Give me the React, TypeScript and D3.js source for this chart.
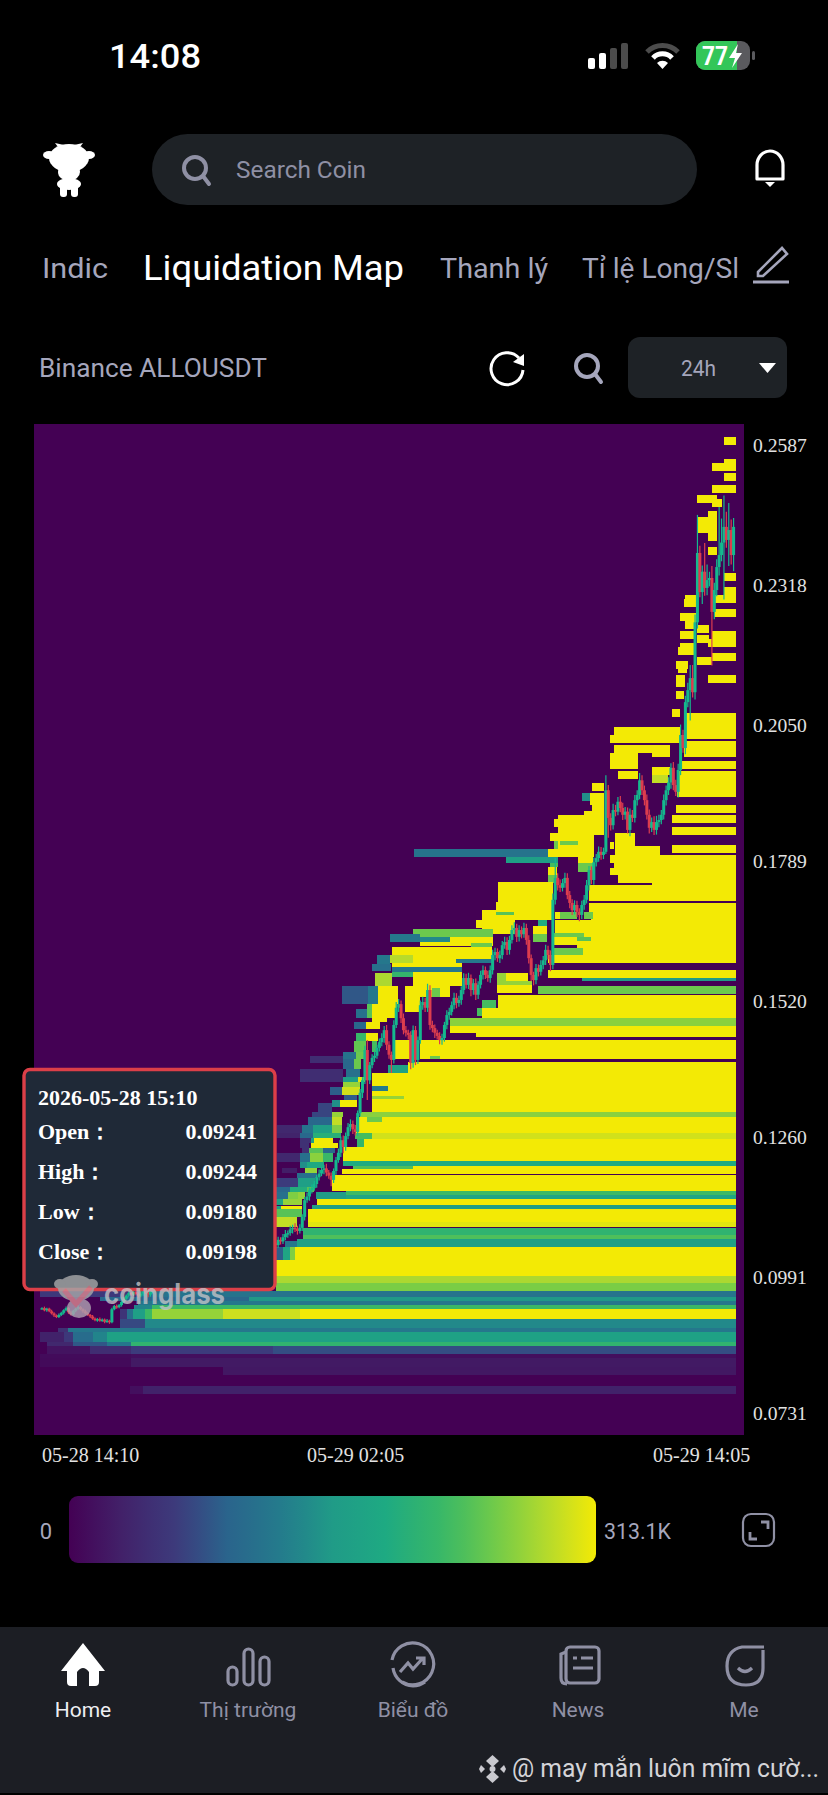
import * as d3 from "d3";
import { useEffect, useRef } from "react";

// price levels printed on the right of the map
const priceTicks = [0.2587, 0.2318, 0.205, 0.1789, 0.152, 0.126, 0.0991, 0.0731];
const timeLabels = ["05-28 14:10", "05-29 02:05", "05-29 14:05"];
const maxLiquidation = 313.1; // K

const tooltipRows = [
  ["Open：", "0.09241"],
  ["High：", "0.09244"],
  ["Low：", "0.09180"],
  ["Close：", "0.09198"],
];

const navItems = ["Home", "Thị trường", "Biểu đồ", "News", "Me"];

// 5 minute candles, open is the previous close
const candleClose = [
  0.0932, 0.0928, 0.0931, 0.0926, 0.0922, 0.0918, 0.0915, 0.0919, 0.0923, 0.0928,
  0.0932, 0.0924, 0.092, 0.0927, 0.0931, 0.0934, 0.093, 0.0926, 0.0922, 0.0919,
  0.0916, 0.0912, 0.0909, 0.0911, 0.0908, 0.091, 0.0906, 0.0908, 0.0905, 0.093,
  0.0936, 0.0934, 0.0938, 0.0944, 0.095, 0.0956, 0.0961, 0.0958, 0.0963, 0.0959,
  0.0956, 0.096, 0.0965, 0.0962, 0.0958, 0.0963, 0.0968, 0.0972, 0.0969, 0.0974,
  0.0978, 0.0975, 0.0971, 0.0976, 0.0981, 0.0985, 0.0982, 0.0987, 0.0991, 0.0988,
  0.0984, 0.0989, 0.0994, 0.0998, 0.0995, 0.1001, 0.1005, 0.1002, 0.0998, 0.1003,
  0.1008, 0.1012, 0.1009, 0.1014, 0.1018, 0.1015, 0.1011, 0.1016, 0.1021, 0.1025,
  0.1022, 0.1027, 0.1031, 0.1028, 0.1033, 0.1037, 0.1034, 0.1039, 0.1043, 0.104,
  0.1036, 0.1041, 0.1046, 0.105, 0.1047, 0.1052, 0.1056, 0.1053, 0.1063, 0.106,
  0.1068, 0.1074, 0.1076, 0.1083, 0.1086, 0.1084, 0.108, 0.1086, 0.1107, 0.1139,
  0.1146, 0.1158, 0.1162, 0.117, 0.1183, 0.119, 0.1197, 0.12, 0.1192, 0.1186,
  0.1178, 0.1195, 0.1216, 0.123, 0.1254, 0.1241, 0.1262, 0.1279, 0.1285, 0.1275,
  0.127, 0.1306, 0.1345, 0.1369, 0.1427, 0.1369, 0.1398, 0.1412, 0.1416, 0.1431,
  0.1442, 0.145, 0.1465, 0.1437, 0.1418, 0.1408, 0.1475, 0.1508, 0.1515, 0.1488,
  0.1465, 0.146, 0.1456, 0.1402, 0.1465, 0.1408, 0.1446, 0.1513, 0.1519, 0.1508,
  0.1542, 0.1475, 0.1469, 0.146, 0.1454, 0.1446, 0.145, 0.1475, 0.1494, 0.15,
  0.1513, 0.1527, 0.1517, 0.1523, 0.1542, 0.1565, 0.1552, 0.1565, 0.1542, 0.1555,
  0.1533, 0.1552, 0.1571, 0.158, 0.1571, 0.1565, 0.158, 0.1609, 0.1615, 0.1603,
  0.1609, 0.1628, 0.1634, 0.1619, 0.1638, 0.1657, 0.1661, 0.1644, 0.1657, 0.1649,
  0.1661, 0.1638, 0.1603, 0.1571, 0.1561, 0.1584, 0.1577, 0.159, 0.1599, 0.1619,
  0.1609, 0.159, 0.1715, 0.1757, 0.1743, 0.1738, 0.1747, 0.1757, 0.1724, 0.1709,
  0.1695, 0.1705, 0.1692, 0.1686, 0.1705, 0.1715, 0.1743, 0.1772, 0.1753, 0.1787,
  0.1795, 0.1807, 0.1801, 0.1807, 0.1925, 0.1872, 0.1858, 0.1887, 0.1884, 0.1903,
  0.1891, 0.1878, 0.1884, 0.1849, 0.1878, 0.1872, 0.1906, 0.1916, 0.1944, 0.1925,
  0.1906, 0.1878, 0.1853, 0.1864, 0.1849, 0.1864, 0.1868, 0.1878, 0.1906, 0.1925,
  0.194, 0.1968, 0.1935, 0.1922, 0.1964, 0.2031, 0.2006, 0.2094, 0.2117, 0.214,
  0.2113, 0.2247, 0.238, 0.2305, 0.2344, 0.2313, 0.2328, 0.2332, 0.2267, 0.2309,
  0.2353, 0.2376, 0.24, 0.243, 0.2405, 0.2424, 0.2376, 0.243,
];

// wick lengths, in 0.0001 of price
const wickUp = [
  2, 3, 2, 2, 3, 2, 2, 3, 2, 2, 3, 2, 3, 2, 2, 3, 2, 2, 3, 2,
  2, 3, 2, 2, 3, 2, 2, 3, 2, 3, 2, 3, 2, 2, 3, 2, 3, 2, 2, 3,
  3, 4, 3, 5, 4, 3, 4, 3, 5, 4, 3, 4, 3, 5, 4, 3, 4, 3, 5, 4,
  3, 4, 3, 5, 4, 3, 4, 3, 5, 4, 3, 4, 3, 5, 4, 3, 4, 3, 5, 4,
  3, 4, 3, 5, 4, 3, 4, 3, 5, 4, 3, 4, 3, 5, 4, 3, 4, 3, 6, 5,
  6, 8, 5, 7, 6, 9, 6, 7, 5, 6, 8, 5, 7, 6, 5, 8, 6, 7, 9, 5,
  6, 5, 6, 8, 7, 9, 7, 8, 9, 7, 8, 5, 7, 6, 8, 19, 6, 7, 8, 6,
  7, 9, 8, 10, 7, 6, 9, 11, 10, 7, 9, 8, 6, 7, 9, 8, 7, 9, 10, 8,
  12, 9, 8, 7, 6, 7, 8, 6, 9, 8, 7, 10, 9, 8, 7, 9, 8, 10, 7, 8,
  9, 7, 8, 9, 7, 8, 9, 10, 8, 7, 9, 8, 10, 9, 8, 9, 11, 8, 9, 7,
  10, 8, 9, 7, 6, 8, 7, 9, 8, 10, 8, 9, 12, 38, 9, 11, 8, 10, 9, 8,
  7, 9, 8, 7, 8, 9, 10, 8, 7, 9, 8, 10, 9, 8, 29, 10, 9, 12, 10, 9,
  11, 10, 9, 8, 12, 9, 10, 9, 14, 10, 9, 11, 10, 9, 11, 12, 10, 9, 11, 9,
  10, 9, 11, 10, 12, 20, 10, 12, 14, 25, 25, 15, 73, 14, 12, 55, 30, 12, 23, 14,
  15, 92, 46, 60, 29, 52, 20, 17,
];
const wickDown = [
  2, 2, 3, 2, 2, 3, 2, 2, 2, 3, 2, 3, 2, 2, 3, 2, 2, 3, 2, 2,
  3, 2, 2, 3, 2, 2, 3, 2, 3, 2, 2, 3, 2, 3, 2, 2, 3, 2, 3, 2,
  4, 3, 4, 3, 5, 4, 3, 4, 3, 5, 4, 3, 4, 3, 5, 4, 3, 4, 3, 5,
  4, 3, 4, 3, 5, 4, 3, 4, 3, 5, 4, 3, 4, 3, 5, 4, 3, 4, 3, 5,
  4, 3, 4, 3, 5, 4, 3, 4, 3, 5, 4, 3, 4, 3, 5, 4, 3, 4, 5, 6,
  5, 6, 7, 5, 8, 6, 7, 5, 6, 7, 5, 8, 6, 5, 7, 6, 5, 8, 7, 6,
  12, 6, 7, 5, 8, 12, 7, 6, 8, 9, 7, 8, 6, 10, 7, 38, 7, 6, 8, 6,
  7, 8, 9, 10, 8, 25, 7, 6, 8, 9, 8, 7, 9, 12, 9, 10, 8, 7, 9, 8,
  8, 9, 8, 10, 7, 8, 9, 7, 8, 9, 7, 8, 10, 7, 9, 8, 7, 8, 12, 9,
  10, 8, 7, 9, 8, 7, 9, 8, 10, 7, 9, 8, 7, 10, 9, 7, 8, 10, 9, 8,
  7, 9, 10, 12, 10, 8, 9, 7, 8, 9, 8, 12, 8, 9, 10, 8, 7, 9, 8, 10,
  9, 8, 10, 12, 8, 9, 7, 10, 8, 9, 8, 7, 9, 8, 4, 38, 10, 8, 9, 7,
  8, 10, 9, 7, 12, 8, 9, 10, 8, 9, 10, 9, 11, 8, 10, 9, 10, 8, 9, 10,
  9, 12, 10, 8, 11, 10, 9, 12, 10, 58, 10, 14, 12, 10, 23, 15, 14, 12, 103, 14,
  12, 16, 12, 109, 15, 50, 18, 31,
];

// heat bands: [price low, price high, from candle, to candle, liquidation K]
const upperBands = [
  [0.2587, 0.2602, 283, 288, 313],
  [0.2553, 0.256, 283, 288, 313],
  [0.2537, 0.2553, 278, 288, 313],
  [0.2518, 0.2533, 283, 288, 313],
  [0.2495, 0.251, 278, 288, 313],
  [0.2476, 0.2491, 272, 280, 313],
  [0.2468, 0.2483, 278, 282, 313],
  [0.2449, 0.2461, 276.5, 280, 313],
  [0.2418, 0.2449, 272, 280, 313],
  [0.2403, 0.2418, 276.5, 280, 313],
  [0.2376, 0.2391, 276.5, 280, 313],
  [0.2326, 0.2342, 283, 288, 313],
  [0.2299, 0.2315, 283, 288, 313],
  [0.2284, 0.2299, 279, 288, 313],
  [0.2292, 0.2299, 267, 271.4, 313],
  [0.2276, 0.2292, 266.4, 271.4, 313],
  [0.2257, 0.2273, 279, 288, 313],
  [0.225, 0.2265, 264.7, 271.4, 313],
  [0.2234, 0.225, 267, 271.4, 313],
  [0.2215, 0.223, 264.7, 270.5, 313],
  [0.2227, 0.2242, 272, 277, 313],
  [0.22, 0.223, 278, 288, 313],
  [0.2207, 0.2223, 272, 277, 313],
  [0.22, 0.2215, 276.5, 278, 313],
  [0.22, 0.2207, 264.7, 270.5, 313],
  [0.2184, 0.22, 264, 270.5, 313],
  [0.2173, 0.2188, 278, 288, 313],
  [0.2165, 0.2181, 272, 278, 313],
  [0.2158, 0.2173, 263, 268, 313],
  [0.215, 0.2158, 264, 267.5, 313],
  [0.2131, 0.2146, 276.5, 288, 313],
  [0.2123, 0.2146, 263, 267, 313],
  [0.21, 0.2115, 263, 266.4, 313],
  [0.2065, 0.2081, 261.4, 264.7, 313],
  [0.2023, 0.2073, 266.4, 288, 313],
  [0.1989, 0.2019, 266.4, 288, 313],
  [0.2031, 0.2046, 237.3, 264.7, 313],
  [0.2016, 0.2031, 235.7, 264.7, 313],
  [0.1996, 0.2012, 237.3, 260.6, 313],
  [0.1989, 0.1996, 253, 260.6, 313],
  [0.1966, 0.1996, 235.7, 247.3, 313],
  [0.1966, 0.1981, 265.6, 288, 313],
  [0.1912, 0.1962, 263.5, 288, 313],
  [0.1947, 0.1962, 239, 247.3, 313],
  [0.1954, 0.197, 253, 260.6, 313],
  [0.1939, 0.1954, 253, 259.8, 290],
  [0.1881, 0.1897, 263, 288, 313],
  [0.1862, 0.1878, 261.4, 288, 313],
  [0.1839, 0.1855, 261.4, 288, 313],
  [0.1805, 0.182, 261.4, 288, 313],
];

const ridgeBands = [
  [0.1924, 0.1939, 228.2, 233.2, 313],
  [0.1904, 0.192, 224, 227.4, 145],
  [0.1897, 0.192, 227.4, 233.2, 313],
  [0.1885, 0.1897, 228.2, 233.2, 313],
  [0.1878, 0.1885, 225, 233.2, 313],
  [0.1862, 0.1878, 214, 233.2, 313],
  [0.1855, 0.187, 212.4, 233.2, 313],
  [0.1843, 0.1855, 214, 233.2, 313],
  [0.1839, 0.1843, 229, 233.2, 313],
  [0.1828, 0.1843, 210.8, 229, 313],
  [0.1812, 0.1828, 212.4, 229, 313],
  [0.182, 0.1828, 215, 222.4, 250],
  [0.1812, 0.1828, 212.4, 214, 250],
  [0.1797, 0.1812, 210, 229, 313],
  [0.1797, 0.1812, 154.4, 210, 115],
  [0.1786, 0.1797, 192.5, 214, 165],
  [0.1786, 0.1797, 222.4, 228.6, 313],
  [0.1768, 0.1786, 222.4, 228.6, 250],
  [0.1778, 0.1786, 210.8, 214, 230],
  [0.1763, 0.1778, 210, 213.7, 313],
  [0.1747, 0.1763, 210, 213.7, 250],
  [0.1747, 0.1801, 256.4, 288, 313],
  [0.1801, 0.1818, 237.8, 256.4, 313],
  [0.1818, 0.1843, 237.8, 246, 313],
  [0.1812, 0.1826, 235.7, 237.3, 313],
  [0.1786, 0.1801, 235.7, 256.4, 313],
  [0.1776, 0.1786, 237.3, 256.4, 313],
  [0.1763, 0.1776, 235.7, 256.4, 313],
  [0.1747, 0.1763, 239, 256.4, 313],
  [0.1743, 0.1747, 253, 288, 313],
  [0.1713, 0.1743, 227, 288, 313],
  [0.1692, 0.1709, 227, 288, 313],
  [0.1676, 0.1692, 228, 288, 313],
  [0.1678, 0.1692, 213, 215, 313],
  [0.1678, 0.1692, 215, 222, 250],
  [0.1678, 0.1692, 225, 228.5, 250],
  [0.1651, 0.1676, 212.9, 288, 313],
  [0.1644, 0.1651, 212, 225, 250],
  [0.1644, 0.1651, 225, 288, 313],
  [0.1628, 0.1644, 212, 222, 313],
  [0.1628, 0.1644, 228, 288, 313],
  [0.1628, 0.1636, 222, 228, 313],
  [0.1636, 0.1644, 222, 228, 240],
  [0.1623, 0.1628, 222, 288, 313],
  [0.1609, 0.1623, 212, 224.3, 250],
  [0.1609, 0.1623, 224.3, 288, 313],
  [0.1594, 0.1609, 210, 288, 313],
  [0.1567, 0.158, 210, 288, 313],
  [0.1565, 0.1567, 210, 288, 313],
  [0.1559, 0.1565, 224, 288, 160],
  [0.1534, 0.155, 205.8, 288, 250],
];

const lowerBands = [
  [0.1523, 0.1532, 189.2, 288, 313],
  [0.1508, 0.1523, 189.2, 288, 313],
  [0.1508, 0.1523, 182.6, 188.3, 230],
  [0.1488, 0.1508, 182.6, 288, 313],
  [0.1493, 0.1508, 180.5, 182.6, 230],
  [0.1473, 0.1488, 169.3, 288, 265],
  [0.146, 0.1473, 169.3, 288, 313],
  [0.1452, 0.146, 180, 288, 313],
  [0.141, 0.1446, 156.8, 288, 313],
  [0.141, 0.1416, 161, 165, 250],
  [0.141, 0.1446, 146.5, 152.7, 313],
  [0.1383, 0.1404, 152, 288, 313],
  [0.1383, 0.1398, 143.6, 152, 170],
  [0.1308, 0.1383, 137, 288, 313],
  [0.1348, 0.1358, 137, 143.6, 125],
  [0.1333, 0.1339, 137, 150.3, 270],
  [0.1299, 0.1308, 132, 288, 265],
  [0.1268, 0.1299, 130.5, 288, 313],
  [0.1289, 0.1299, 135, 141, 250],
  [0.1256, 0.1268, 130, 288, 297],
  [0.1256, 0.1268, 130, 137, 230],
  [0.1241, 0.1256, 130.7, 288, 313],
  [0.1241, 0.1256, 130.7, 133.5, 215],
  [0.1214, 0.1241, 124.9, 288, 313],
  [0.1205, 0.1214, 125, 288, 190],
  [0.1199, 0.1205, 129, 154, 235],
  [0.1199, 0.1205, 154, 288, 313],
  [0.1189, 0.1199, 124.5, 288, 313],
  [0.1157, 0.1187, 120.3, 288, 313],
  [0.1149, 0.1157, 126, 288, 225],
  [0.1141, 0.1149, 126, 288, 178],
  [0.1141, 0.1155, 113.7, 126, 160],
  [0.113, 0.1141, 114, 288, 313],
  [0.1122, 0.113, 112, 288, 165],
  [0.1097, 0.1122, 110.4, 288, 313],
  [0.1088, 0.1097, 110.4, 288, 305],
  [0.1072, 0.1086, 108.3, 288, 210],
  [0.1065, 0.1072, 108.3, 288, 235],
  [0.1049, 0.1065, 105.8, 288, 168],
  [0.1024, 0.1049, 105, 288, 313],
  [0.0994, 0.1024, 97, 288, 313],
  [0.098, 0.0994, 97, 288, 280],
  [0.0965, 0.098, 97, 288, 258],
  [0.0953, 0.0965, -1, 40, 60],
  [0.0953, 0.0965, 40, 288, 115],
  [0.0946, 0.0953, 24, 86, 100],
  [0.0946, 0.0953, 86, 288, 155],
  [0.0938, 0.0946, 40, 288, 120],
  [0.093, 0.0938, 38, 45.6, 135],
  [0.093, 0.0938, 45.6, 288, 222],
  [0.0911, 0.093, 32.4, 35.3, 55],
  [0.0911, 0.093, 35.3, 37.8, 110],
  [0.0911, 0.093, 37.8, 42.7, 165],
  [0.0911, 0.093, 42.7, 45.6, 225],
  [0.0911, 0.093, 45.6, 75, 270],
  [0.0911, 0.093, 75, 107, 295],
  [0.0911, 0.093, 107, 288, 313],
  [0.0894, 0.0911, 32.4, 42.7, 75],
  [0.0894, 0.0911, 42.7, 288, 140],
  [0.0886, 0.0894, 6.6, 10.8, 50],
  [0.0886, 0.0894, 10.8, 288, 120],
  [0.0867, 0.0886, -1, 9, 32],
  [0.0867, 0.0886, 9, 13, 60],
  [0.0867, 0.0886, 13, 21, 105],
  [0.0867, 0.0886, 21, 27, 135],
  [0.0867, 0.0886, 27, 288, 170],
  [0.0859, 0.0867, 2, 13, 38],
  [0.0859, 0.0867, 13, 27, 85],
  [0.0859, 0.0867, 27, 37, 120],
  [0.0859, 0.0867, 37, 288, 212],
  [0.0844, 0.0859, 2, 20, 18],
  [0.0844, 0.0859, 20, 37, 45],
  [0.0844, 0.0859, 37, 96, 65],
  [0.0844, 0.0859, 96, 288, 78],
  [0.0836, 0.0844, -1, 37, 10],
  [0.0836, 0.0844, 37, 288, 14],
  [0.0819, 0.0836, -1, 37, 9],
  [0.0819, 0.0836, 37, 288, 24],
  [0.0804, 0.0819, 75, 288, 22],
  [0.0767, 0.0783, 36.5, 42, 14],
  [0.0767, 0.0783, 42, 288, 32],
];

// the stepped fringe on the left of the big yellow block
const fringeBands = [
  [0.1517, 0.1523, 134.9, 143.6, 145],
  [0.1488, 0.1517, 137, 147.3, 313],
  [0.1488, 0.1517, 134.9, 137, 240],
  [0.1488, 0.1505, 130.3, 134.9, 110],
  [0.1467, 0.148, 129.5, 134.4, 100],
  [0.1467, 0.148, 134.4, 140.2, 313],
  [0.148, 0.1488, 137, 143, 313],
  [0.1444, 0.146, 130.3, 134.4, 220],
  [0.1444, 0.146, 134.4, 139.4, 313],
  [0.1423, 0.1444, 129.5, 134.4, 245],
  [0.1423, 0.1444, 137, 139, 230],
  [0.141, 0.1423, 124.9, 130.3, 115],
  [0.141, 0.1423, 130.3, 134.4, 250],
  [0.1402, 0.1416, 111.2, 124.9, 45],
  [0.1391, 0.141, 124.9, 129.5, 100],
  [0.1391, 0.141, 129.5, 132.5, 250],
  [0.1366, 0.1391, 107, 124.9, 45],
  [0.1366, 0.1375, 124.9, 131, 165],
  [0.1375, 0.1391, 126, 132, 110],
  [0.1366, 0.1375, 131, 134, 305],
  [0.1356, 0.1366, 124.9, 132, 270],
  [0.1341, 0.1356, 119.5, 124.5, 90],
  [0.1341, 0.1356, 124.5, 132, 297],
  [0.1331, 0.1341, 125.3, 130.7, 90],
  [0.1318, 0.1331, 120.3, 123.7, 145],
  [0.1318, 0.1331, 123.7, 130.7, 313],
  [0.1308, 0.1325, 114.5, 120.3, 72],
  [0.1299, 0.1308, 112, 120.3, 72],
  [0.1299, 0.1308, 120.3, 124.9, 270],
  [0.1283, 0.1299, 110.4, 120.3, 100],
  [0.1283, 0.1299, 120.3, 124.5, 290],
  [0.1268, 0.1283, 97.5, 107.9, 38],
  [0.1268, 0.1283, 107.9, 112.4, 115],
  [0.1268, 0.1283, 112.4, 120.3, 165],
  [0.1268, 0.1283, 120.3, 124.5, 260],
  [0.1258, 0.1268, 97.5, 107, 34],
  [0.1258, 0.1268, 107, 112.4, 100],
  [0.1258, 0.1268, 112.4, 124, 200],
  [0.1249, 0.1258, 107, 111.5, 50],
  [0.1249, 0.1258, 111.5, 112.7, 165],
  [0.1249, 0.1258, 112.7, 120.6, 313],
  [0.1239, 0.1249, 107, 111, 50],
  [0.1239, 0.1249, 111.5, 123, 313],
  [0.123, 0.1239, 108, 111, 50],
  [0.123, 0.1239, 111, 116.5, 240],
  [0.123, 0.1239, 116.5, 121.5, 100],
  [0.1212, 0.123, 97.5, 107, 38],
  [0.1212, 0.123, 107, 111.2, 110],
  [0.1212, 0.123, 111.2, 116.5, 265],
  [0.1212, 0.123, 116.5, 120.6, 220],
  [0.1201, 0.1212, 107, 110, 145],
  [0.1201, 0.1212, 110, 117, 185],
  [0.1191, 0.1201, 99.6, 106, 28],
  [0.1191, 0.1201, 109, 114, 270],
  [0.1182, 0.1191, 106, 114, 110],
  [0.1164, 0.1182, 97, 106.2, 65],
  [0.1164, 0.1182, 106.2, 113.3, 165],
  [0.1155, 0.1164, 97, 103, 100],
  [0.1155, 0.1164, 103, 110, 195],
  [0.1155, 0.1164, 110, 113, 240],
  [0.1141, 0.1155, 97, 102, 110],
  [0.1141, 0.1155, 102, 106.2, 260],
  [0.1141, 0.1155, 106.2, 109, 270],
  [0.113, 0.1141, 97, 100, 175],
  [0.113, 0.1141, 100, 107.9, 270],
  [0.1122, 0.1128, 97, 99, 165],
  [0.1122, 0.1128, 99, 108, 313],
  [0.1107, 0.1122, 97, 107.9, 240],
  [0.1088, 0.1107, 97, 105.8, 290],
  [0.1049, 0.106, 101, 105.8, 120],
  [0.1024, 0.1049, 97, 100, 90],
  [0.1024, 0.1049, 100, 103, 175],
  [0.1024, 0.1049, 103, 105, 260],
];

// the cluster above the fringe, between 0.15 and 0.175
const clusterBands = [
  [0.1711, 0.1749, 189.2, 212, 313],
  [0.1695, 0.1711, 188.4, 212, 313],
  [0.1676, 0.1695, 182.6, 212, 313],
  [0.1686, 0.1692, 188.4, 196, 240],
  [0.1661, 0.1676, 180, 196.3, 313],
  [0.1649, 0.1661, 182.6, 196.3, 313],
  [0.1644, 0.1659, 154, 187.1, 250],
  [0.1634, 0.1649, 144.4, 156.8, 120],
  [0.1634, 0.1644, 156.8, 169.3, 140],
  [0.1628, 0.1644, 169.3, 187.1, 313],
  [0.1626, 0.1634, 156.8, 187.1, 313],
  [0.1609, 0.1624, 145.2, 186.7, 313],
  [0.1624, 0.1632, 178, 186.7, 250],
  [0.1594, 0.1609, 144.4, 186.7, 313],
  [0.1594, 0.1609, 144.4, 154, 285],
  [0.1594, 0.1602, 171.8, 186.7, 120],
  [0.1586, 0.1594, 145.2, 174.3, 313],
  [0.1577, 0.1586, 145.2, 174.3, 120],
  [0.1567, 0.1577, 145.2, 154, 215],
  [0.155, 0.1577, 154, 174.3, 313],
  [0.1529, 0.155, 150.6, 169.3, 313],
  [0.1529, 0.1546, 161.8, 165.1, 250],
  [0.15, 0.1529, 150.6, 157, 313],
  [0.155, 0.1574, 138.2, 145.2, 280],
  [0.1592, 0.1609, 139, 144.4, 120],
  [0.1578, 0.1592, 137, 145, 110],
  [0.1515, 0.155, 124.5, 135.3, 85],
  [0.1515, 0.155, 135.3, 139.4, 120],
  [0.1515, 0.155, 139.4, 147.7, 313],
  [0.1559, 0.1575, 188.8, 192.5, 270],
  [0.1559, 0.1575, 192.5, 201.7, 313],
  [0.1552, 0.1559, 188.8, 203.3, 270],
  [0.1536, 0.1552, 188.8, 203.3, 313],
  [0.1649, 0.1665, 203.7, 209.5, 313],
  [0.1634, 0.1649, 203.7, 209.5, 250],
  [0.1665, 0.1676, 205.8, 209.5, 190],
];

const heatBands = [...lowerBands, ...ridgeBands, ...upperBands, ...fringeBands, ...clusterBands];

const sansFont = "Roboto, sans-serif";
const serifFont = "'Liberation Serif', serif";
const mutedText = "#a5a6bc";
const iconGrey = "#8f90a4";
const panelFill = "#1e2226";

// colours
const heatColor = d3
  .scaleLinear<string>()
  .domain([0, 38, 66, 94, 128, 157, 188, 225, 257, 288, 313.1])
  .range([
    "#440154", "#41286e", "#3c3c7d", "#2a648c", "#237d8c", "#209b87", "#1eaa82",
    "#3cb964", "#78cd46", "#bedc28", "#f3ea05",
  ])
  .clamp(true);

export default function App() {
  const chartRef = useRef<SVGGElement>(null);
  const legendRef = useRef<SVGLinearGradientElement>(null);

  useEffect(() => {
    if (!chartRef.current || !legendRef.current) return;
    const g = d3.select(chartRef.current);
    g.selectAll("*").remove();

    const plot = { left: 34, right: 744, top: 424, bottom: 1435 };

    const xScale = d3.scaleLinear().domain([0, 288]).range([42, 736]);
    const yScale = d3.scaleLinear().domain([0.0731, 0.2587]).range([1413, 445]);

    // background is the zero end of the scale
    g.append("rect")
      .attr("x", plot.left)
      .attr("y", plot.top)
      .attr("width", plot.right - plot.left)
      .attr("height", plot.bottom - plot.top)
      .attr("fill", heatColor(0));

    // Heat bands
    g.append("g")
      .attr("shape-rendering", "crispEdges")
      .selectAll("rect")
      .data(heatBands)
      .enter()
      .append("rect")
      .attr("x", (d) => xScale(d[2]))
      .attr("y", (d) => yScale(d[1]))
      .attr("width", (d) => xScale(d[3]) - xScale(d[2]))
      .attr("height", (d) => yScale(d[0]) - yScale(d[1]))
      .attr("fill", (d) => heatColor(d[4]));

    // Candles
    const candles = candleClose.map((close, i) => {
      const open = i === 0 ? close : candleClose[i - 1];
      return {
        i,
        open,
        close,
        high: Math.max(open, close) + wickUp[i] / 10000,
        low: Math.min(open, close) - wickDown[i] / 10000,
      };
    });
    const candleColor = (d: { open: number; close: number }) =>
      d.close >= d.open ? "#14b98e" : "#dc3d4e";

    const candleG = g.append("g").selectAll("g").data(candles).enter().append("g");
    candleG
      .append("line")
      .attr("x1", (d) => xScale(d.i))
      .attr("x2", (d) => xScale(d.i))
      .attr("y1", (d) => yScale(d.high))
      .attr("y2", (d) => yScale(d.low))
      .attr("stroke", candleColor)
      .attr("stroke-width", 1.2);
    candleG
      .append("rect")
      .attr("x", (d) => xScale(d.i) - 1.5)
      .attr("y", (d) => yScale(Math.max(d.open, d.close)))
      .attr("width", 3)
      .attr("height", (d) => Math.max(1.5, Math.abs(yScale(d.open) - yScale(d.close))))
      .attr("fill", candleColor);

    // Price axis
    const yAxis = d3
      .axisRight(yScale)
      .tickValues(priceTicks)
      .tickSize(0)
      .tickPadding(9)
      .tickFormat(d3.format(".4f") as never);
    const yAxisG = g.append("g").attr("transform", `translate(${plot.right},0)`).call(yAxis);
    yAxisG.select(".domain").remove();
    yAxisG
      .selectAll("text")
      .style("font-family", serifFont)
      .style("font-size", "19.6px")
      .style("fill", "#e2e2e2");

    // Time labels sit where the app puts them, not on the candle they name
    const timeLabelX = [42, 307, 653];
    g.append("g")
      .selectAll("text")
      .data(timeLabels)
      .enter()
      .append("text")
      .attr("x", (_, i) => timeLabelX[i])
      .attr("y", 1462)
      .style("font-family", serifFont)
      .style("font-size", "20px")
      .style("fill", "#e2e2e2")
      .text((d) => d);

    // Legend gradient
    const steps = d3.range(0, 1.001, 0.05);
    d3.select(legendRef.current)
      .selectAll("stop")
      .data(steps)
      .enter()
      .append("stop")
      .attr("offset", (d) => `${d * 100}%`)
      .attr("stop-color", (d) => heatColor(d * maxLiquidation));
  }, []);

  return (
    <svg
      width={828}
      height={1795}
      viewBox="0 0 828 1795"
      style={{ position: "absolute", left: 0, top: 0, background: "#000" }}
    >
      <defs>
        <linearGradient id="legend-gradient" ref={legendRef} x1="0" x2="1" y1="0" y2="0" />
        <clipPath id="battery-clip">
          <rect x={696} y={41} width={41} height={29} />
        </clipPath>
      </defs>
      <rect width={828} height={1795} fill="#000" />

      {/* Status bar */}
      <text x={109} y={68} fontFamily={sansFont} fontSize={33} fontWeight={500} fill="#fff" textLength={92} lengthAdjust="spacingAndGlyphs">
        14:08
      </text>
      <g>
        <rect x={588} y={58} width={7} height={11} rx={2} fill="#fff" />
        <rect x={599} y={53} width={7} height={16} rx={2} fill="#fff" />
        <rect x={610} y={48} width={7} height={21} rx={2} fill="#4c4c4c" />
        <rect x={621} y={43} width={7} height={26} rx={2} fill="#4c4c4c" />
      </g>
      <g fill="none" strokeLinecap="butt">
        <path d="M647 52 A22 22 0 0 1 678 52" stroke="#4c4c4c" strokeWidth={5} />
        <path d="M653 58 A13 13 0 0 1 672 58" stroke="#fff" strokeWidth={5} />
      </g>
      <path d="M657 63 A8 8 0 0 1 668 63 L662.5 69 Z" fill="#fff" />
      <rect x={696} y={41} width={54} height={29} rx={9} fill="#5a5a5e" />
      <rect x={696} y={41} width={54} height={29} rx={9} fill="#33c659" clipPath="url(#battery-clip)" />
      <rect x={752} y={51} width={3} height={9} rx={1.5} fill="#5a5a5e" />
      <text x={702} y={65} fontFamily={sansFont} fontSize={25} fontWeight={700} fill="#fff" textLength={26} lengthAdjust="spacingAndGlyphs">
        77
      </text>
      <path d="M738 44 L729 58 L735 58 L732 68 L742 53 L736 53 Z" fill="#fff" />

      {/* Top bar */}
      <g fill="#fff">
        <ellipse cx={69} cy={158} rx={20} ry={14} />
        <ellipse cx={49} cy={155} rx={6} ry={4} />
        <ellipse cx={89} cy={155} rx={6} ry={4} />
        <path d="M58 147 L55 143 L64 145 Z M80 147 L83 143 L74 145 Z" />
        <ellipse cx={69} cy={172} rx={11} ry={9} />
        <ellipse cx={69} cy={184} rx={12} ry={6} />
        <rect x={60} y={184} width={7} height={13} rx={3} />
        <rect x={71} y={184} width={7} height={13} rx={3} />
      </g>
      <rect x={152} y={134} width={545} height={71} rx={35.5} fill={panelFill} />
      <g fill="none" stroke={iconGrey} strokeWidth={4}>
        <circle cx={195} cy={168} r={11} />
        <path d="M203 176 L209 184" strokeLinecap="round" />
      </g>
      <text x={236} y={178} fontFamily={sansFont} fontSize={24} fill={iconGrey} textLength={130} lengthAdjust="spacingAndGlyphs">
        Search Coin
      </text>
      <path d="M757 179 L757 165 A13 14 0 0 1 783 165 L783 179 Z" fill="none" stroke="#fff" strokeWidth={3.2} strokeLinejoin="round" />
      <path d="M765 182 L775 182 L770 187 Z" fill="#fff" />

      {/* Tabs */}
      <text x={42} y={278} fontFamily={sansFont} fontSize={28} fill={mutedText} textLength={66} lengthAdjust="spacingAndGlyphs">
        Indic
      </text>
      <text x={143} y={280} fontFamily={sansFont} fontSize={35} fill="#fff" textLength={261} lengthAdjust="spacingAndGlyphs">
        Liquidation Map
      </text>
      <text x={440} y={278} fontFamily={sansFont} fontSize={28} fill={mutedText} textLength={108} lengthAdjust="spacingAndGlyphs">
        Thanh lý
      </text>
      <text x={582} y={278} fontFamily={sansFont} fontSize={28} fill={mutedText} textLength={157} lengthAdjust="spacingAndGlyphs">
        Tỉ lệ Long/Sl
      </text>
      <path d="M758 272 L782 248 L787 254 L763 276 L758 276 Z" fill="none" stroke={mutedText} strokeWidth={2.6} />
      <path d="M753 282 L789 282" fill="none" stroke={mutedText} strokeWidth={3} />

      {/* Chart header */}
      <text x={39} y={377} fontFamily={sansFont} fontSize={25} fill={mutedText} textLength={228} lengthAdjust="spacingAndGlyphs">
        Binance ALLOUSDT
      </text>
      <path d="M519 358 A16 16 0 1 0 523 370" fill="none" stroke="#fff" strokeWidth={3} />
      <path d="M524 354 L524 366 L513 362 Z" fill="#fff" />
      <g fill="none" stroke={mutedText} strokeWidth={4}>
        <circle cx={587} cy={366} r={11} />
        <path d="M595 374 L601 382" strokeLinecap="round" />
      </g>
      <rect x={628} y={337} width={159} height={61} rx={12} fill={panelFill} />
      <text x={681} y={376} fontFamily={sansFont} fontSize={22} fill={mutedText} textLength={35} lengthAdjust="spacingAndGlyphs">
        24h
      </text>
      <path d="M759 363 L776 363 L767.5 373 Z" fill="#fff" />

      <g ref={chartRef} />

      {/* Tooltip */}
      <rect x={24} y={1069.5} width={251} height={220} rx={6} fill="#1f2937" stroke="#dc3f48" strokeWidth={3.4} />
      <text x={38} y={1105} fontFamily={serifFont} fontSize={22} fontWeight={700} fill="#fff">
        2026-05-28 15:10
      </text>
      {tooltipRows.map(([label, value], i) => (
        <g key={label} fontFamily={serifFont} fontSize={22} fontWeight={700} fill="#fff">
          <text x={38} y={1139 + i * 40}>
            {label}
          </text>
          <text x={257} y={1139 + i * 40} textAnchor="end">
            {value}
          </text>
        </g>
      ))}

      {/* Watermark */}
      <g opacity={0.82}>
        <ellipse cx={76} cy={1288} rx={18} ry={13} fill="#a6a6a8" />
        <ellipse cx={60} cy={1284} rx={6} ry={5} fill="#a6a6a8" />
        <ellipse cx={92} cy={1284} rx={6} ry={5} fill="#a6a6a8" />
        <ellipse cx={79} cy={1308} rx={12} ry={10} fill="#ad9fb0" />
        <path d="M64 1290 L76 1304 L91 1287" fill="none" stroke="#d8848f" strokeWidth={5} />
      </g>
      <text x={104} y={1304} fontFamily="Inter, sans-serif" fontSize={29} fontWeight={700} fill="#c4c4c8" fillOpacity={0.78} textLength={121} lengthAdjust="spacingAndGlyphs">
        coinglass
      </text>

      {/* Legend */}
      <text x={46} y={1539} textAnchor="middle" fontFamily={sansFont} fontSize={22} fill={mutedText}>
        0
      </text>
      <rect x={69} y={1496} width={527} height={67} rx={9} fill="url(#legend-gradient)" />
      <text x={604} y={1539} fontFamily={sansFont} fontSize={22} fill={mutedText} textLength={67} lengthAdjust="spacingAndGlyphs">
        313.1K
      </text>
      <rect x={743} y={1514} width={31} height={32} rx={8} fill="none" stroke={iconGrey} strokeWidth={2.2} />
      <path d="M761 1522 L768 1522 L768 1529 M750 1532 L750 1539 L757 1539" fill="none" stroke={iconGrey} strokeWidth={2.8} />

      {/* Bottom nav */}
      <rect y={1627} width={828} height={166} fill="#1c1e24" />
      <path d="M83 1643 L105 1671 L99 1671 L99 1682 Q99 1686 95 1686 L89 1686 L89 1672 Q83 1664 77 1672 L77 1686 L71 1686 Q67 1686 67 1682 L67 1671 L61 1671 Z" fill="#fff" />
      <g fill="none" stroke={iconGrey} strokeWidth={3.2}>
        <rect x={228} y={1667} width={9} height={18} rx={4.5} />
        <rect x={244} y={1649} width={9} height={36} rx={4.5} />
        <rect x={260} y={1657} width={9} height={28} rx={4.5} />
        <path d="M402 1682 A21 21 0 1 0 392 1660" />
        <path d="M393 1668 A21 21 0 0 0 413 1686 A21 21 0 0 0 425 1682" />
        <path d="M400 1672 L408 1663 L413 1669 L423 1658 M416 1658 L424 1658 L424 1665" />
        <rect x={566} y={1647} width={33} height={36} rx={4} />
        <path d="M566 1652 L561 1654 L561 1678 Q561 1684 567 1684" />
        <path d="M573 1658 L577 1658 M581 1658 L593 1658 M573 1668 L593 1668" />
        <path d="M764 1647 L742 1647 Q727 1650 727 1666 Q727 1685 746 1685 Q763 1685 763 1668 L763 1650" />
        <path d="M738 1668 Q745 1675 752 1668" />
      </g>
      {navItems.map((label, i) => (
        <text
          key={label}
          x={[83, 248, 413, 578, 744][i]}
          y={1717}
          textAnchor="middle"
          fontFamily={sansFont}
          fontSize={21}
          fill={i === 0 ? "#eeeef2" : iconGrey}
        >
          {label}
        </text>
      ))}
      <g fill="#c9c9cf">
        <path d="M492.5 1755 L499 1761 L492.5 1767 L486 1761 Z" />
        <path d="M492.5 1771 L499 1777 L492.5 1783 L486 1777 Z" />
        <path d="M481 1765 L485 1769 L481 1773 L479 1769 Z" />
        <path d="M504 1765 L506 1769 L504 1773 L500 1769 Z" />
        <circle cx={492.5} cy={1769} r={3} />
      </g>
      <text x={512} y={1777} fontFamily={sansFont} fontSize={25} fill="#d4d4d8" textLength={307} lengthAdjust="spacingAndGlyphs">
        @ may mắn luôn mĩm cườ...
      </text>
    </svg>
  );
}
